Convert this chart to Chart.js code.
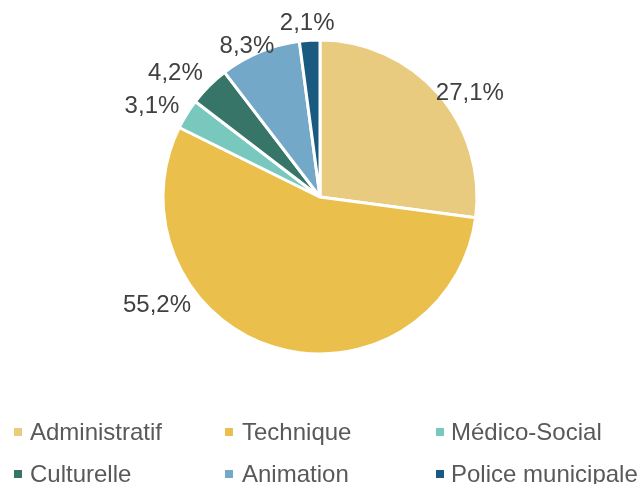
<!DOCTYPE html>
<html>
<head>
<meta charset="utf-8">
<script src="https://cdn.jsdelivr.net/npm/chart.js@4.4.1/dist/chart.umd.min.js"></script>
<style>
    html, body { margin: 0; padding: 0; background: #fff; }
    #wrap { position: relative; width: 640px; height: 484px; }
    #legend { position: absolute; left: 0; top: 0; width: 640px; height: 484px; pointer-events: none;
        font-family: "Liberation Sans", Arial, sans-serif; font-size: 24px; color: #595959; }
    .item { position: absolute; white-space: nowrap; line-height: 24px; }
    .box { position: absolute; width: 8px; height: 8px; }
</style>
</head>
<body>
<div id="wrap">
    <canvas id="pie" width="640" height="484"></canvas>
    <div id="legend"></div>
</div>
<script>
// Data
const categories = ["Administratif", "Technique", "Médico-Social", "Culturelle", "Animation", "Police municipale"];
const shares = [27.1, 55.2, 3.1, 4.2, 8.3, 2.1];
const colors = ["#E9CB7F", "#EBBF4C", "#78C8BE", "#387569", "#74A8C9", "#1A5A80"];

// label placement, like Excel's best fit: angle nudge (deg) and distance past the rim (px)
const labelShift = [6.2, 39.8, -3.2, -4.2, -3.3, -0.4];
const labelGap = [26, 38, 34.5, 34, 11, 18.5];

const fmt = (v) => v.toFixed(1).replace(".", ",") + "%";

// Plugin: outside labels
const outsideLabels = {
    id: "outsideLabels",
    afterDatasetsDraw(chart) {
        const ctx = chart.ctx;
        const meta = chart.getDatasetMeta(0);
        ctx.save();
        ctx.font = "24px 'Liberation Sans', Arial, sans-serif";
        ctx.fillStyle = "#404040";
        ctx.textAlign = "center";
        ctx.textBaseline = "middle";
        meta.data.forEach((arc, i) => {
            const a = (arc.startAngle + arc.endAngle) / 2 + labelShift[i] * Math.PI / 180;
            const r = arc.outerRadius + labelGap[i];
            ctx.fillText(fmt(shares[i]), arc.x + Math.cos(a) * r, arc.y + Math.sin(a) * r + 1);
        });
        ctx.restore();
    }
};

new Chart(document.querySelector("#pie"), {
    type: "pie",
    data: {
        labels: categories,
        datasets: [{
            data: shares,
            backgroundColor: colors,
            borderColor: "#ffffff",
            borderWidth: 3,
            radius: 157
        }]
    },
    options: {
        responsive: false,
        animation: false,
        layout: { padding: { top: 0, bottom: 90, left: 0, right: 0 } },
        plugins: {
            legend: { display: false },
            tooltip: { enabled: false }
        }
    },
    plugins: [outsideLabels]
});

// Legend (3 columns, 2 rows)
const legendEl = document.querySelector("#legend");
const boxX = [14, 225, 436];
const textX = [30, 242, 451];
const rowY = [420, 462];
categories.forEach((name, i) => {
    const c = i % 3, y = rowY[Math.floor(i / 3)];
    const box = document.createElement("div");
    box.className = "box";
    box.style.left = boxX[c] + "px";
    box.style.top = (y + 8) + "px";
    box.style.background = colors[i];
    legendEl.appendChild(box);
    const t = document.createElement("div");
    t.className = "item";
    t.style.left = textX[c] + "px";
    t.style.top = y + "px";
    t.textContent = name;
    legendEl.appendChild(t);
});
</script>
</body>
</html>
